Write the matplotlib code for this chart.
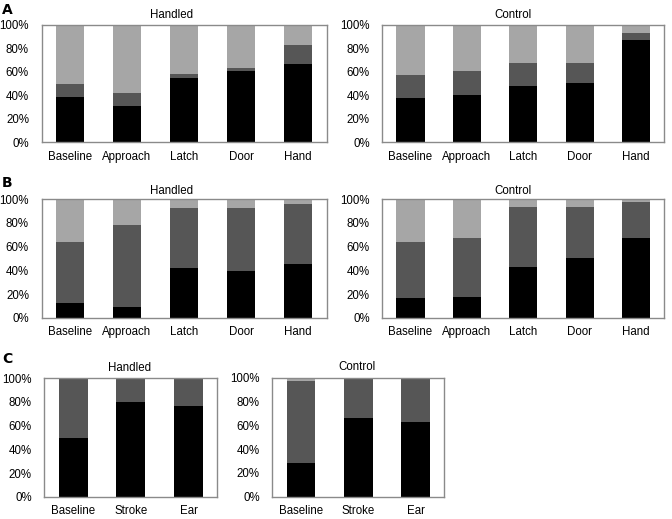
import matplotlib
matplotlib.use("Agg")
import matplotlib.pyplot as plt
from matplotlib.ticker import FuncFormatter

plt.rcParams['font.family'] = ['Liberation Sans', 'DejaVu Sans']

cats_ab = ["Baseline", "Approach", "Latch", "Door", "Hand"]
cats_c = ["Baseline", "Stroke", "Ear"]

# Panel A (percent); the top segment fills up to 100%
a_handled_black = [38.5, 31, 54.5, 60.5, 66.7]
a_handled_dark = [10.7, 11, 4, 2.5, 16.1]
a_control_black = [37.2, 40, 47.6, 50.4, 86.5]
a_control_dark = [20, 20.3, 19.4, 16.6, 6.7]

# Panel B
b_handled_black = [12.7, 9.3, 42, 39.2, 45]
b_handled_dark = [51.3, 68.7, 51, 53.8, 50.8]
b_control_black = [16.9, 17.5, 42.8, 50.4, 67]
b_control_dark = [47.1, 49.5, 50.4, 42.8, 30.5]

# Panel C
c_handled_black = [50, 79.7, 77]
c_handled_dark = [50, 20.3, 23]
c_control_black = [28, 66, 63]
c_control_dark = [69.2, 34, 37]

C_BLACK = "#000000"
C_DARK = "#565656"
C_LIGHT = "#a6a6a6"

W, H = 672, 519
fig = plt.figure(figsize=(W / 100, H / 100), dpi=100)


def make_ax(l, r, t, b):
    return fig.add_axes([l / W, 1 - b / H, (r - l) / W, (b - t) / H])


def draw(ax, cats, black, dark):
    x = list(range(len(cats)))
    light = [100 - k - d for k, d in zip(black, dark)]
    mid_bottom = black
    top_bottom = [k + d for k, d in zip(black, dark)]
    ax.bar(x, black, width=0.5, color=C_BLACK, linewidth=0)
    ax.bar(x, dark, width=0.5, bottom=mid_bottom, color=C_DARK, linewidth=0)
    ax.bar(x, light, width=0.5, bottom=top_bottom, color=C_LIGHT, linewidth=0)
    ax.set_xlim(-0.5, len(cats) - 0.5)
    ax.set_ylim(0, 100)
    ax.set_yticks([0, 20, 40, 60, 80, 100])
    ax.yaxis.set_major_formatter(FuncFormatter(lambda v, p: f"{int(v)}%"))
    ax.set_xticks(x)
    ax.set_xticklabels(cats)
    ax.tick_params(axis='both', length=0, labelsize=8.3, colors='black')
    ax.tick_params(axis='y', pad=9)
    ax.tick_params(axis='x', pad=6)
    for s in ax.spines.values():
        s.set_color("#8a8a8a")
        s.set_linewidth(1.0)


axes_specs = [
    ((41.5, 326.5, 24.7, 142.3), cats_ab, a_handled_black, a_handled_dark, "Handled", 172, 15),
    ((382.3, 664.3, 24.5, 142.3), cats_ab, a_control_black, a_control_dark, "Control", 513, 15),
    ((41.5, 326.5, 199.3, 317.7), cats_ab, b_handled_black, b_handled_dark, "Handled", 172, 190.5),
    ((382.3, 664.3, 199.3, 317.7), cats_ab, b_control_black, b_control_dark, "Control", 513, 190.5),
    ((44.3, 217.5, 378.3, 496.7), cats_c, c_handled_black, c_handled_dark, "Handled", 130, 368),
    ((272.3, 444.3, 377.5, 496.7), cats_c, c_control_black, c_control_dark, "Control", 357, 367.5),
]

for (l, r, t, b), cats, blk, drk, title, tx, ty in axes_specs:
    ax = make_ax(l, r, t, b)
    draw(ax, cats, blk, drk)
    fig.text(tx / W, 1 - ty / H, title, ha='center', va='center', fontsize=8.3)

for letter, lx, ly in [("A", 2, 10), ("B", 2, 183), ("C", 2, 359)]:
    fig.text(lx / W, 1 - ly / H, letter, ha='left', va='center', fontsize=10,
             fontweight='bold', family=['DejaVu Sans'])

fig.savefig("out.png", dpi=100)
